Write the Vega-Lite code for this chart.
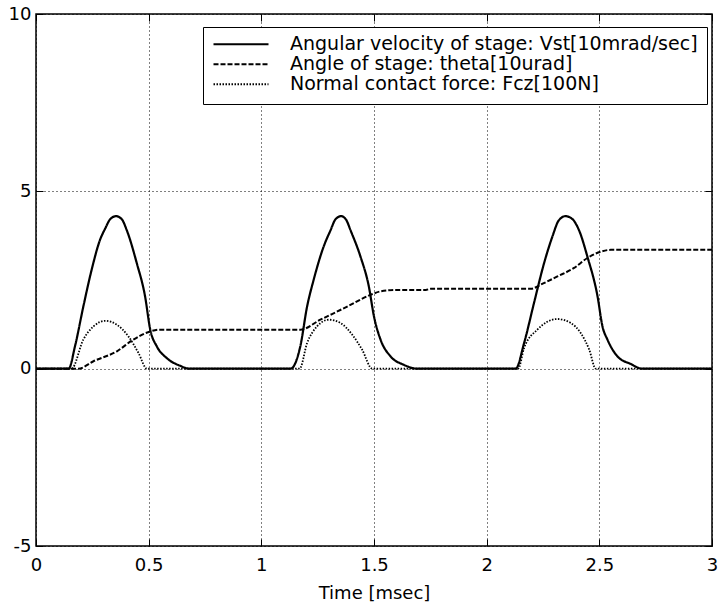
{
  "$schema": "https://vega.github.io/schema/vega-lite/v6.json",
  "width": 676,
  "height": 532,
  "autosize": {"type": "none"},
  "padding": {"left": 36, "top": 14, "right": 7, "bottom": 61},
  "background": "white",
  "config": {
    "view": {"stroke": "black", "strokeWidth": 1.5},
    "font": "DejaVu Sans"
  },
  "data": {
    "values": [
      {"s": "Vst", "t": 0, "v": 0}, {"s": "Vst", "t": 0.145, "v": 0}, {"s": "Vst", "t": 0.173, "v": 0.63}, {"s": "Vst", "t": 0.21, "v": 1.75}, {"s": "Vst", "t": 0.247, "v": 2.79}, {"s": "Vst", "t": 0.284, "v": 3.63}, {"s": "Vst", "t": 0.307, "v": 3.95}, {"s": "Vst", "t": 0.33, "v": 4.22}, {"s": "Vst", "t": 0.355, "v": 4.3}, {"s": "Vst", "t": 0.38, "v": 4.22}, {"s": "Vst", "t": 0.403, "v": 3.9}, {"s": "Vst", "t": 0.447, "v": 2.98}, {"s": "Vst", "t": 0.484, "v": 2.04}, {"s": "Vst", "t": 0.507, "v": 1.1}, {"s": "Vst", "t": 0.536, "v": 0.63}, {"s": "Vst", "t": 0.58, "v": 0.3}, {"s": "Vst", "t": 0.64, "v": 0.08}, {"s": "Vst", "t": 0.68, "v": 0},
      {"s": "Vst", "t": 1.13, "v": 0}, {"s": "Vst", "t": 1.173, "v": 0.63}, {"s": "Vst", "t": 1.203, "v": 1.75}, {"s": "Vst", "t": 1.232, "v": 2.5}, {"s": "Vst", "t": 1.277, "v": 3.45}, {"s": "Vst", "t": 1.307, "v": 3.9}, {"s": "Vst", "t": 1.33, "v": 4.22}, {"s": "Vst", "t": 1.355, "v": 4.3}, {"s": "Vst", "t": 1.378, "v": 4.18}, {"s": "Vst", "t": 1.396, "v": 3.9}, {"s": "Vst", "t": 1.44, "v": 3.16}, {"s": "Vst", "t": 1.477, "v": 2.32}, {"s": "Vst", "t": 1.5, "v": 1.47}, {"s": "Vst", "t": 1.529, "v": 0.82}, {"s": "Vst", "t": 1.573, "v": 0.35}, {"s": "Vst", "t": 1.632, "v": 0.11}, {"s": "Vst", "t": 1.69, "v": 0},
      {"s": "Vst", "t": 2.129, "v": 0}, {"s": "Vst", "t": 2.166, "v": 0.72}, {"s": "Vst", "t": 2.21, "v": 1.85}, {"s": "Vst", "t": 2.255, "v": 2.98}, {"s": "Vst", "t": 2.292, "v": 3.73}, {"s": "Vst", "t": 2.32, "v": 4.18}, {"s": "Vst", "t": 2.35, "v": 4.3}, {"s": "Vst", "t": 2.38, "v": 4.22}, {"s": "Vst", "t": 2.41, "v": 3.9}, {"s": "Vst", "t": 2.447, "v": 3.16}, {"s": "Vst", "t": 2.492, "v": 2.04}, {"s": "Vst", "t": 2.514, "v": 1.19}, {"s": "Vst", "t": 2.536, "v": 0.82}, {"s": "Vst", "t": 2.58, "v": 0.35}, {"s": "Vst", "t": 2.64, "v": 0.13}, {"s": "Vst", "t": 2.69, "v": 0}, {"s": "Vst", "t": 3, "v": 0},
      {"s": "theta", "t": 0, "v": 0}, {"s": "theta", "t": 0.188, "v": 0}, {"s": "theta", "t": 0.255, "v": 0.21}, {"s": "theta", "t": 0.359, "v": 0.49}, {"s": "theta", "t": 0.432, "v": 0.82}, {"s": "theta", "t": 0.507, "v": 1.05}, {"s": "theta", "t": 0.551, "v": 1.1}, {"s": "theta", "t": 1.173, "v": 1.1}, {"s": "theta", "t": 1.262, "v": 1.38}, {"s": "theta", "t": 1.381, "v": 1.75}, {"s": "theta", "t": 1.484, "v": 2.08}, {"s": "theta", "t": 1.529, "v": 2.18}, {"s": "theta", "t": 1.6, "v": 2.22}, {"s": "theta", "t": 1.73, "v": 2.22}, {"s": "theta", "t": 1.75, "v": 2.25}, {"s": "theta", "t": 2.196, "v": 2.25}, {"s": "theta", "t": 2.24, "v": 2.37}, {"s": "theta", "t": 2.314, "v": 2.6}, {"s": "theta", "t": 2.388, "v": 2.84}, {"s": "theta", "t": 2.447, "v": 3.12}, {"s": "theta", "t": 2.507, "v": 3.3}, {"s": "theta", "t": 2.551, "v": 3.35}, {"s": "theta", "t": 3, "v": 3.35},
      {"s": "Fcz", "t": 0, "v": 0}, {"s": "Fcz", "t": 0.158, "v": 0}, {"s": "Fcz", "t": 0.21, "v": 0.82}, {"s": "Fcz", "t": 0.255, "v": 1.19}, {"s": "Fcz", "t": 0.307, "v": 1.35}, {"s": "Fcz", "t": 0.359, "v": 1.24}, {"s": "Fcz", "t": 0.41, "v": 0.91}, {"s": "Fcz", "t": 0.455, "v": 0.44}, {"s": "Fcz", "t": 0.492, "v": 0}, {"s": "Fcz", "t": 1.17, "v": 0}, {"s": "Fcz", "t": 1.203, "v": 0.72}, {"s": "Fcz", "t": 1.247, "v": 1.19}, {"s": "Fcz", "t": 1.3, "v": 1.38}, {"s": "Fcz", "t": 1.351, "v": 1.29}, {"s": "Fcz", "t": 1.403, "v": 0.96}, {"s": "Fcz", "t": 1.447, "v": 0.54}, {"s": "Fcz", "t": 1.492, "v": 0}, {"s": "Fcz", "t": 2.14, "v": 0}, {"s": "Fcz", "t": 2.166, "v": 0.58}, {"s": "Fcz", "t": 2.225, "v": 1.1}, {"s": "Fcz", "t": 2.314, "v": 1.4}, {"s": "Fcz", "t": 2.373, "v": 1.29}, {"s": "Fcz", "t": 2.418, "v": 1.0}, {"s": "Fcz", "t": 2.455, "v": 0.54}, {"s": "Fcz", "t": 2.484, "v": 0}, {"s": "Fcz", "t": 3, "v": 0}
    ]
  },
  "layer": [
    {
      "mark": {"type": "line", "color": "black", "interpolate": "monotone"},
      "encoding": {
        "x": {
          "field": "t", "type": "quantitative",
          "scale": {"domain": [0, 3], "nice": false, "zero": false},
          "axis": {
            "values": [0, 0.5, 1, 1.5, 2, 2.5, 3], "labelExpr": "'' + datum.value",
            "title": "Time [msec]",
            "grid": true, "gridColor": "black", "gridDash": [1, 3], "gridOpacity": 1, "gridWidth": 1,
            "domain": false, "tickColor": "black", "tickSize": -7, "tickWidth": 1,
            "labelFontSize": 18, "labelColor": "black", "labelPadding": 17,
            "labelFlush": false, "labelOverlap": false,
            "titleFontSize": 18, "titleFontWeight": "normal", "titleColor": "black", "titlePadding": 10
          }
        },
        "y": {
          "field": "v", "type": "quantitative",
          "scale": {"domain": [-5, 10], "nice": false, "zero": false},
          "axis": {
            "values": [-5, 0, 5, 10], "labelExpr": "'' + datum.value",
            "title": null,
            "grid": true, "gridColor": "black", "gridDash": [1, 3], "gridOpacity": 1, "gridWidth": 1,
            "domain": false, "tickColor": "black", "tickSize": -7, "tickWidth": 1,
            "labelFontSize": 18, "labelColor": "black", "labelPadding": 12,
            "labelFlush": false, "labelOverlap": false
          }
        },
        "detail": {"field": "s"},
        "strokeDash": {
          "field": "s", "type": "nominal",
          "scale": {"domain": ["Vst", "theta", "Fcz"], "range": [[1, 0], [5, 2], [1.5, 1.5]]},
          "legend": {
            "title": null,
            "orient": "none", "legendX": 167, "legendY": 13,
            "fillColor": "white", "strokeColor": "black",
            "padding": 9, "symbolType": "stroke", "symbolSize": 3025,
            "symbolStrokeColor": "black", "labelOffset": 20,
            "labelFontSize": 19, "labelColor": "black", "labelFont": "DejaVu Sans",
            "labelLimit": 0, "clipHeight": 16.5,
            "rowPadding": 0, "cornerRadius": 0,
            "labelExpr": "datum.label == 'Vst' ? 'Angular velocity of stage: Vst[10mrad/sec]' : datum.label == 'theta' ? 'Angle of stage: theta[10urad]' : 'Normal contact force: Fcz[100N]'"
          }
        },
        "strokeWidth": {
          "field": "s", "type": "nominal",
          "scale": {"domain": ["Vst", "theta", "Fcz"], "range": [2.2, 1.8, 1.4]},
          "legend": null
        }
      }
    },
    {
      "mark": {"type": "line", "strokeOpacity": 0},
      "encoding": {
        "x": {
          "field": "t", "type": "quantitative",
          "axis": {"orient": "top", "values": [0, 0.5, 1, 1.5, 2, 2.5, 3], "labels": false, "title": null, "grid": false, "domain": false, "tickColor": "black", "tickSize": -7}
        },
        "y": {
          "field": "v", "type": "quantitative",
          "axis": {"orient": "right", "values": [-5, 0, 5, 10], "labels": false, "title": null, "grid": false, "domain": false, "tickColor": "black", "tickSize": -7}
        },
        "detail": {"field": "s"}
      }
    }
  ],
  "resolve": {"axis": {"x": "independent", "y": "independent"}}
}
